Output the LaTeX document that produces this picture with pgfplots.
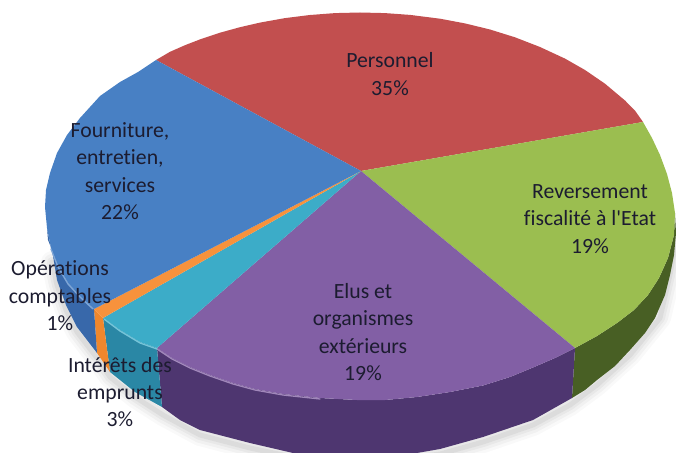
\documentclass[border=0pt]{standalone}
\usepackage{pgfplots}
\usepackage{fontspec}
\newfontfamily\lab{Carlito}[Ligatures=NoCommon]
\pgfplotsset{compat=1.18}
\definecolor{cRed}{RGB}{194,79,79}
\definecolor{cGreen}{RGB}{155,190,80}
\definecolor{cPurple}{RGB}{130,95,165}
\definecolor{cBlue}{RGB}{72,128,196}
\definecolor{cTeal}{RGB}{60,172,200}
\definecolor{cOrange}{RGB}{247,146,60}
\definecolor{sGreen}{RGB}{72,95,36}
\definecolor{sPurple}{RGB}{78,54,112}
\definecolor{sBlue}{RGB}{56,104,170}
\definecolor{sTeal}{RGB}{42,135,165}
\definecolor{sOrange}{RGB}{240,135,45}
\definecolor{txt}{RGB}{28,28,48}
\pgfplotstableread{
x y
52 262
57 285
66 310
77 332
97 358
110 377
135 397
163 415
200 435
250 448
293 457
417 457
440 454
483 442
533 425
570 405
597 385
630 355
660 318
670 275
677 235
}\shadowline
\begin{document}
\begin{tikzpicture}
\useasboundingbox (0,0) rectangle (676bp,453bp);
\begin{axis}[
  at={(0,0)},anchor=south west,
  width=676bp,height=453bp,scale only axis,
  xmin=0,xmax=676,ymin=0,ymax=453,y dir=reverse,
  axis lines=none,enlargelimits=false,clip=true,
  every axis plot/.append style={line join=round,line cap=round,no marks},
]
% soft shadow
\addplot[draw=black,opacity=0.025,line width=22bp] table {\shadowline};
\addplot[draw=black,opacity=0.03,line width=16bp] table {\shadowline};
\addplot[draw=black,opacity=0.04,line width=10bp] table {\shadowline};
\addplot[draw=black,opacity=0.05,line width=5bp] table {\shadowline};
% side faces
\addplot[fill=sGreen,draw=none] coordinates {(575,348)(597,336)(617,323)(634,310)(648,295)(659,278)(668,258)(674,235)(675,213)(676,233)(674,255)(670,275)(665,295)(655,318)(645,333)(630,350)(615,366)(597,380)(585,390)(572,398)} -- cycle;
\addplot[fill=sPurple,draw=none] coordinates {(575,348)(555,358)(533,367.5)(510,377)(483,385.5)(450,392)(417,397)(385,400)(357,400)(320,398)(283,394)(255,389)(233,383)(210,375)(190,367)(172,358)(157,348)(162,407)(180,420)(200,430)(250,443)(293,453)(417,453)(440,449)(483,437)(533,420)(572,398)} -- cycle;
\addplot[fill=sTeal,draw=none] coordinates {(157,348)(140,342)(120,330)(103,318)(110,372)(135,392)(162,407)} -- cycle;
\addplot[fill=sOrange,draw=none] coordinates {(103,318)(94,309)(97,353)(110,372)} -- cycle;
\addplot[fill=sBlue,draw=none] coordinates {(94,309)(80,296)(68,283)(58,266)(51,248)(47,228)(48,240)(52,250)(57,280)(66,305)(77,327)(97,353)} -- cycle;
% top faces
\addplot[fill=cRed,draw=none] coordinates {(361,171)(156,60)(170,51.8)(185,45.2)(200,39.4)(220,32.7)(240,27.2)(260,22.6)(285,18.1)(310,15)(335,13.1)(360,12.5)(385,13.1)(410,14.9)(440,18.7)(465,23.4)(490,29.5)(515,37.3)(540,47)(565,58.6)(585,70)(605,83.7)(625,100.5)(635,110.6)(643,122)} -- cycle;
\addplot[fill=cGreen,draw=none] coordinates {(361,171)(643,122)(652,138)(660,155)(667,174)(672,193)(675,213)(674,235)(668,258)(659,278)(648,295)(634,310)(617,323)(597,336)(575,348)} -- cycle;
\addplot[fill=cPurple,draw=none] coordinates {(361,171)(575,348)(555,358)(533,367.5)(510,377)(483,385.5)(450,392)(417,397)(385,400)(357,400)(320,398)(283,394)(255,389)(233,383)(210,375)(190,367)(172,358)(157,348)} -- cycle;
\addplot[fill=cTeal,draw=none] coordinates {(361,171)(157,348)(140,342)(120,330)(103,318)} -- cycle;
\addplot[fill=cOrange,draw=none] coordinates {(361,171)(103,318)(94,309)} -- cycle;
\addplot[fill=cBlue,draw=none] coordinates {(361,171)(94,309)(80,296)(68,283)(58,266)(51,248)(47,228)(45,207)(46,190)(50,173)(57,153)(67,135)(80,118)(100,96)(120,82)(138,72)(156,60)} -- cycle;
% rim highlights
\addplot[draw=cPurple!75!white,line width=1.3bp] coordinates {(157,349)(172,359)(190,368)(210,376)(233,384)(255,390)(283,395)(320,399)};
\addplot[draw=cTeal!70!white,line width=1.3bp] coordinates {(157,349)(140,343)(120,331)(104,319)};
\addplot[draw=cBlue!70!white,line width=1.3bp] coordinates {(93,309)(80,297)(68,284)(58,267)(51,249)};
% labels
\begin{scope}[every node/.style={text=txt,align=center,font=\lab\fontsize{21.8}{27.5}\selectfont,inner sep=0pt}]
\node at (axis cs:390,74) {Personnel\\35\%};
\node at (axis cs:590,219) {Reversement\\fiscalité à l'Etat\\19\%};
\node at (axis cs:120,171) {Fourniture,\\entretien,\\services\\22\%};
\node at (axis cs:60,296) {Opérations\\comptables\\1\%};
\node at (axis cs:363,332) {Elus et\\organismes\\extérieurs\\19\%};
\node at (axis cs:120,392) {Intérêts des\\emprunts\\3\%};
\end{scope}
\end{axis}
\end{tikzpicture}
\end{document}
